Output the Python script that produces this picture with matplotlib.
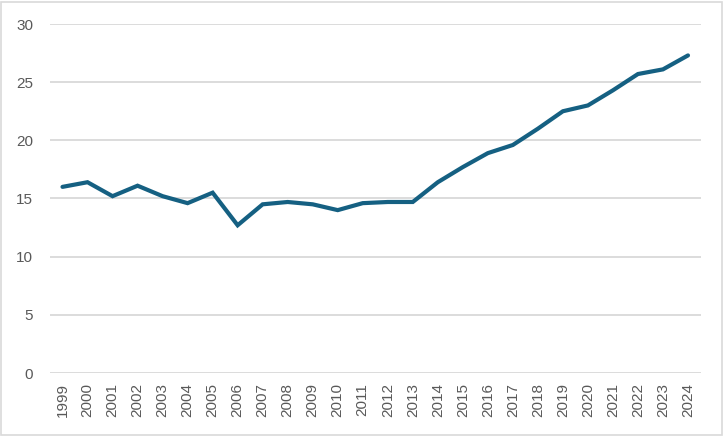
import matplotlib
matplotlib.use('Agg')
import matplotlib.pyplot as plt
from matplotlib.patches import Rectangle

years = list(range(1999, 2025))
values = [16.0, 16.4, 15.2, 16.1, 15.2, 14.6, 15.5, 12.7, 14.5, 14.7,
          14.5, 14.0, 14.6, 14.7, 14.7, 16.4, 17.7, 18.9, 19.6, 21.0,
          22.5, 23.0, 24.3, 25.7, 26.1, 27.3]
y_ticks = [0, 5, 10, 15, 20, 25, 30]

plt.rcParams['font.family'] = ['Liberation Sans', 'DejaVu Sans']
plt.rcParams['font.size'] = 11

fig = plt.figure(figsize=(7.24, 4.36), dpi=100)
ax = fig.add_axes([50 / 724, 1 - 373 / 436, 650.5 / 724, 349 / 436])

x = range(len(years))
ax.plot(x, values, color='#156082', linewidth=3, solid_capstyle='round',
        solid_joinstyle='miter', zorder=3)

ax.set_xlim(-0.5, len(years) - 0.5)
ax.set_ylim(0, 30)
ax.set_yticks(y_ticks)
ax.set_xticks(list(x))
ax.set_xticklabels([str(y) for y in years], rotation=90)
ax.yaxis.grid(True, color='#d9d9d9', linewidth=1.3)
ax.set_axisbelow(True)
for s in ax.spines.values():
    s.set_visible(False)
ax.tick_params(axis='both', length=0, colors='#595959', labelsize=11)
ax.tick_params(axis='y', pad=12)
ax.tick_params(axis='x', pad=7)

# chart border
fig.patches.append(Rectangle((1 / 724, 1 / 436), 721 / 724, 433 / 436,
                             transform=fig.transFigure, fill=False,
                             edgecolor='#d9d9d9', linewidth=1.2))

plt.savefig('out.png', dpi=100)
